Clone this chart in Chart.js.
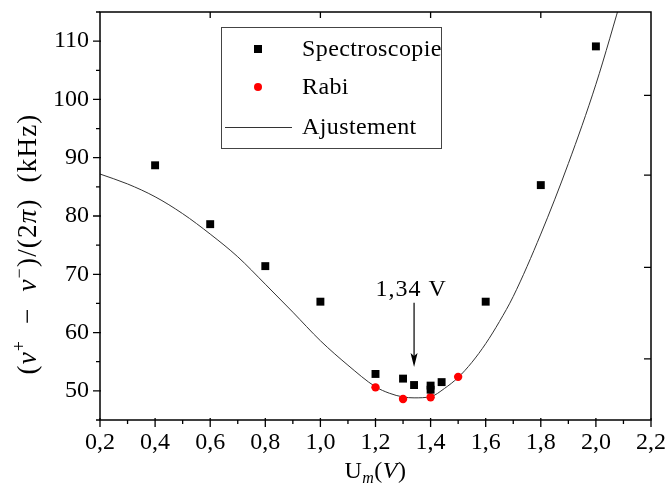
<!DOCTYPE html>
<html>
<head>
<meta charset="utf-8">
<script src="https://cdn.jsdelivr.net/npm/chart.js@4.4.1/dist/chart.umd.min.js"></script>
<style>
  html, body { margin: 0; padding: 0; background: #fff; }
  #wrap { width: 667px; height: 488px; position: relative; }
</style>
</head>
<body>
<div id="wrap"><canvas id="c" width="667" height="488"></canvas></div>
<script>
// ---- Data ----
const spectroX = [0.4, 0.6, 0.8, 1.0, 1.2, 1.3, 1.34, 1.4, 1.4, 1.44, 1.6, 1.8, 2.0];
const spectroY = [88.7, 78.6, 71.4, 65.3, 52.9, 52.1, 51.0, 50.9, 50.2, 51.5, 65.3, 85.3, 109.1];

const rabiX = [1.2, 1.3, 1.4, 1.5];
const rabiY = [50.6, 48.6, 48.9, 52.4];

const fitX = [0.2, 0.3, 0.4, 0.5, 0.6, 0.7, 0.8, 0.9, 1.0, 1.1, 1.2, 1.25, 1.3, 1.34, 1.4, 1.45, 1.5, 1.55, 1.6, 1.65, 1.7, 1.8, 1.9, 2.0, 2.1];
const fitY = [87.2, 85.5, 83.3, 80.4, 76.9, 73.0, 68.3, 63.5, 58.6, 54.4, 50.7, 49.6, 48.95, 48.8, 49.0, 50.4, 52.3, 54.9, 58.1, 61.9, 66.2, 76.9, 89.0, 102.6, 118.5];

const seriesNames = ["Spectroscopie", "Rabi", "Ajustement"];

// tick values
const xMajorTicks = [0.2, 0.4, 0.6, 0.8, 1.0, 1.2, 1.4, 1.6, 1.8, 2.0, 2.2];
const xMinorTicks = [0.3, 0.5, 0.7, 0.9, 1.1, 1.3, 1.5, 1.7, 1.9, 2.1];
const xTopTicks = [0.6, 1.0, 1.4, 1.8];
const yMajorTicks = [50, 60, 70, 80, 90, 100, 110];
const yMinorTicks = [45, 55, 65, 75, 85, 95, 105, 115];
const yRightTicks = [55.5, 71.2, 87.0, 100.7];

// annotation
const annX = 1.34;
const annFromY = 65.1;
const annToY = 54.1;
const annLabelY = 67.3;
const annLabel = "1,34 V";

const FONT = "'Liberation Serif', 'Times New Roman', serif";

function pts(xs, ys) { return xs.map((x, i) => ({ x: x, y: ys[i] })); }
function fmt(v) { return (Math.round(v * 10) / 10).toFixed(1).replace('.', ','); }

function drawRich(ctx, segs, cx, cy, rot, spacing) {
  ctx.save();
  ctx.translate(cx, cy);
  if (rot) ctx.rotate(rot);
  ctx.letterSpacing = (spacing || 0) + 'px';
  let total = 0;
  const widths = segs.map(s => { ctx.font = s.font; const w = ctx.measureText(s.t).width; total += w; return w; });
  let x = -total / 2;
  ctx.textBaseline = 'alphabetic';
  ctx.textAlign = 'left';
  ctx.fillStyle = '#000';
  segs.forEach((s, i) => { ctx.font = s.font; ctx.fillText(s.t, x, s.dy || 0); x += widths[i]; });
  ctx.restore();
}

const decor = {
  id: 'decor',
  afterDatasetsDraw(chart) {
    const ctx = chart.ctx;
    const a = chart.chartArea;
    const xs = chart.scales.x, ys = chart.scales.y;
    ctx.save();
    // frame
    ctx.strokeStyle = '#000';
    ctx.lineWidth = 1.5;
    ctx.strokeRect(a.left, a.top, a.right - a.left, a.bottom - a.top);
    ctx.lineWidth = 1.3;
    ctx.beginPath();
    xMajorTicks.forEach(v => { const p = xs.getPixelForValue(v); ctx.moveTo(p, a.bottom - 2); ctx.lineTo(p, a.bottom + 7); });
    xMinorTicks.forEach(v => { const p = xs.getPixelForValue(v); ctx.moveTo(p, a.bottom); ctx.lineTo(p, a.bottom + 4); });
    xTopTicks.forEach(v => { const p = xs.getPixelForValue(v); ctx.moveTo(p, a.top); ctx.lineTo(p, a.top + 6); });
    yMajorTicks.forEach(v => { const p = ys.getPixelForValue(v); ctx.moveTo(a.left + 1, p); ctx.lineTo(a.left - 7, p); });
    yMinorTicks.forEach(v => { const p = ys.getPixelForValue(v); ctx.moveTo(a.left, p); ctx.lineTo(a.left - 4, p); });
    yRightTicks.forEach(v => { const p = ys.getPixelForValue(v); ctx.moveTo(a.right, p); ctx.lineTo(a.right - 7, p); });
    ctx.stroke();

    // annotation arrow
    const ax = xs.getPixelForValue(annX);
    const y1 = ys.getPixelForValue(annFromY);
    const y2 = ys.getPixelForValue(annToY);
    ctx.lineWidth = 1.2;
    ctx.beginPath();
    ctx.moveTo(ax, y1);
    ctx.lineTo(ax, y2 - 10);
    ctx.stroke();
    ctx.fillStyle = '#000';
    ctx.beginPath();
    ctx.moveTo(ax, y2);
    ctx.lineTo(ax - 3.5, y2 - 14);
    ctx.lineTo(ax, y2 - 11);
    ctx.lineTo(ax + 3.5, y2 - 14);
    ctx.closePath();
    ctx.fill();
    ctx.font = '24px ' + FONT;
    ctx.letterSpacing = '1px';
    ctx.textAlign = 'center';
    ctx.textBaseline = 'middle';
    ctx.fillText(annLabel, ax - 3, ys.getPixelForValue(annLabelY));

    // legend
    const lx = 221, ly = 27, lw = 220, lh = 121;
    ctx.fillStyle = '#fff';
    ctx.fillRect(lx, ly, lw, lh);
    ctx.strokeStyle = '#444';
    ctx.lineWidth = 1;
    ctx.strokeRect(lx + 0.5, ly + 0.5, lw, lh);
    const ds = chart.data.datasets;
    const rowsY = [49, 87, 127];
    const symX = 258, textX = 302;
    ctx.fillStyle = ds[0].backgroundColor;
    ctx.fillRect(symX - 4, rowsY[0] - 4, 8, 8);
    ctx.fillStyle = ds[1].backgroundColor;
    ctx.beginPath(); ctx.arc(symX, rowsY[1], 4, 0, Math.PI * 2); ctx.fill();
    ctx.strokeStyle = ds[2].borderColor;
    ctx.lineWidth = ds[2].borderWidth;
    ctx.beginPath(); ctx.moveTo(225, rowsY[2] + 0.5); ctx.lineTo(292, rowsY[2] + 0.5); ctx.stroke();
    ctx.fillStyle = '#000';
    ctx.font = '24px ' + FONT;
    ctx.letterSpacing = '0.4px';
    ctx.textAlign = 'left';
    ctx.textBaseline = 'middle';
    seriesNames.forEach((n, i) => ctx.fillText(n, textX, rowsY[i] + 1));
    ctx.letterSpacing = '0px';

    // axis titles
    const N = '24px ' + FONT, I = 'italic 24px ' + FONT, S = '16px ' + FONT, SI = 'italic 16px ' + FONT;
    const NY = '27px ' + FONT, IY = 'italic 27px ' + FONT, SY = '18px ' + FONT;
    drawRich(ctx, [
      { t: '(', font: NY }, { t: 'ν', font: IY }, { t: '+', font: SY, dy: -11 },
      { t: '  −  ', font: NY }, { t: 'ν', font: IY }, { t: '−', font: SY, dy: -11 },
      { t: ')/(2', font: NY }, { t: 'π', font: IY }, { t: ')  (kHz)', font: NY }
    ], 36, 244, -Math.PI / 2, 1.2);
    drawRich(ctx, [
      { t: 'U', font: N }, { t: 'm', font: SI, dy: 5 }, { t: '(', font: N },
      { t: 'V', font: I }, { t: ')', font: N }
    ], (a.left + a.right) / 2, 478, 0, 0.5);
    ctx.restore();
  }
};

new Chart(document.getElementById('c'), {
  type: 'scatter',
  data: {
    datasets: [
      { label: seriesNames[0], data: pts(spectroX, spectroY), pointStyle: 'rect', pointRadius: 5.6,
        backgroundColor: '#000', borderWidth: 0, showLine: false },
      { label: seriesNames[1], data: pts(rabiX, rabiY), pointStyle: 'circle', pointRadius: 4.2,
        backgroundColor: '#ff0000', borderWidth: 0, showLine: false },
      { label: seriesNames[2], data: pts(fitX, fitY), showLine: true, pointRadius: 0,
        borderColor: '#333', borderWidth: 1, backgroundColor: '#333', cubicInterpolationMode: 'monotone', fill: false }
    ]
  },
  options: {
    responsive: false,
    animation: false,
    events: [],
    layout: { padding: { top: 12, right: 16, left: 0, bottom: 0 } },
    plugins: { legend: { display: false }, tooltip: { enabled: false } },
    scales: {
      x: {
        type: 'linear', min: 0.2, max: 2.2,
        grid: { display: false, drawTicks: false },
        border: { display: false },
        afterBuildTicks: s => { s.ticks = xMajorTicks.map(v => ({ value: v })); },
        afterFit: s => { s.height = 68; s.paddingLeft = 0; s.paddingRight = 0; },
        ticks: { color: '#000', padding: 8, maxRotation: 0, autoSkip: false,
          font: { family: FONT, size: 24 }, callback: v => fmt(v) }
      },
      y: {
        type: 'linear', min: 45, max: 115,
        grid: { display: false, drawTicks: false },
        border: { display: false },
        afterBuildTicks: s => { s.ticks = yMajorTicks.map(v => ({ value: v })); },
        afterFit: s => { s.width = 100; s.paddingTop = 0; s.paddingBottom = 0; },
        ticks: { color: '#000', padding: 11, autoSkip: false,
          font: { family: FONT, size: 24 }, callback: v => String(v) }
      }
    }
  },
  plugins: [decor]
});
</script>
</body>
</html>
